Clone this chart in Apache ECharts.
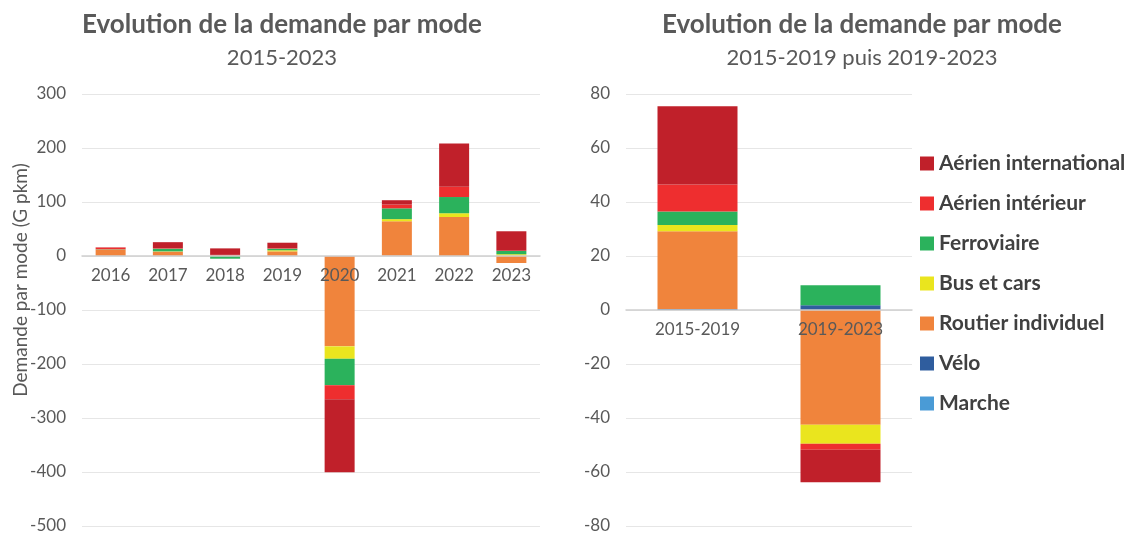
<!DOCTYPE html>
<html>
<head>
<meta charset="utf-8">
<script src="https://cdn.jsdelivr.net/npm/echarts@6/dist/echarts.min.js"></script>
<style>
  html, body { margin: 0; padding: 0; background: #fff; }
  #chart { width: 1135px; height: 533px; }
</style>
</head>
<body>
<div id="chart"></div>
<script>
// années (graphique de gauche)
const years = ['2016', '2017', '2018', '2019', '2020', '2021', '2022', '2023'];
// périodes (graphique de droite)
const periods = ['2015-2019', '2019-2023'];

const modes = ['Marche', 'Vélo', 'Routier individuel', 'Bus et cars', 'Ferroviaire', 'Aérien intérieur', 'Aérien international'];
const colors = ['#4A9BD6', '#2F5D9E', '#F0843C', '#EAE51E', '#2BB25C', '#EE2E2F', '#C0202A'];

// variations annuelles (G pkm)
const marcheYear = [0, 0, 0, 0, 0, 0, 0, 0];
const veloYear = [0.1, 0.1, 0.1, 0.1, -0.3, 0.3, 0.2, 0.3];
const routierYear = [12, 8, 1, 8.5, -167, 64, 72, -13];
const busYear = [0, 0.5, 0, 2, -23, 4, 7, 3];
const ferroYear = [0.5, 5, -5, 3, -49, 20, 30, 6];
const aerIntYear = [3, 1, 1, 1, -26, 7, 19, 0.5];
const aerInterYear = [0.5, 11, 12, 10, -135, 8, 80, 36];

// variations par période (G pkm)
const marchePeriod = [0, 0];
const veloPeriod = [0.4, 1.8];
const routierPeriod = [28.8, -42.5];
const busPeriod = [2.3, -7];
const ferroPeriod = [5, 7.4];
const aerIntPeriod = [10, -2.3];
const aerInterPeriod = [29, -12];

const yearData = [marcheYear, veloYear, routierYear, busYear, ferroYear, aerIntYear, aerInterYear];
const periodData = [marchePeriod, veloPeriod, routierPeriod, busPeriod, ferroPeriod, aerIntPeriod, aerInterPeriod];

const FONT = 'Lato';
const gray = '#595959';

let chart = echarts.init(document.getElementById('chart'));

const series = [];
modes.forEach((m, i) => {
  series.push({
    name: m, type: 'bar', stack: 'annee',
    xAxisIndex: 0, yAxisIndex: 0,
    barWidth: 30,
    itemStyle: { color: colors[i] },
    data: yearData[i]
  });
});
modes.forEach((m, i) => {
  series.push({
    name: m, type: 'bar', stack: 'periode',
    xAxisIndex: 1, yAxisIndex: 1,
    barWidth: 80,
    itemStyle: { color: colors[i] },
    data: periodData[i]
  });
});

const yLabel = { color: gray, fontSize: 17, fontFamily: FONT };

chart.setOption({
  animation: false,
  textStyle: { fontFamily: FONT },
  title: [
    {
      text: 'Evolution de la demande par mode',
      subtext: '2015-2023',
      left: 277, top: 7, textAlign: 'center', itemGap: 9,
      textStyle: { fontSize: 26, fontWeight: 'bold', color: gray, fontFamily: FONT },
      subtextStyle: { fontSize: 22, color: gray, fontFamily: FONT }
    },
    {
      text: 'Evolution de la demande par mode',
      subtext: '2015-2019 puis 2019-2023',
      left: 857, top: 7, textAlign: 'center', itemGap: 9,
      textStyle: { fontSize: 26, fontWeight: 'bold', color: gray, fontFamily: FONT },
      subtextStyle: { fontSize: 22, color: gray, fontFamily: FONT }
    }
  ],
  legend: {
    orient: 'vertical',
    left: 915, top: 148,
    itemWidth: 14, itemHeight: 14, itemGap: 19,
    icon: 'rect',
    data: modes.slice().reverse(),
    textStyle: { fontSize: 21, fontWeight: 'bold', color: '#404040', fontFamily: FONT }
  },
  graphic: [{
    type: 'text',
    x: 11, y: 280, rotation: Math.PI / 2,
    style: {
      text: 'Demande par mode (G pkm)',
      fill: gray, font: '19px Lato',
      textAlign: 'center', textVerticalAlign: 'top'
    }
  }],
  grid: [
    { left: 82, width: 458, top: 94, height: 432, outerBoundsMode: 'none' },
    { left: 626, width: 286, top: 94, height: 432, outerBoundsMode: 'none' }
  ],
  xAxis: [
    {
      type: 'category', gridIndex: 0, data: years,
      offset: -270, z: 5,
      axisTick: { show: false },
      axisLine: { onZero: false, lineStyle: { color: '#d0d0d0', width: 1.5 } },
      axisLabel: { color: gray, fontSize: 17, margin: 11 }
    },
    {
      type: 'category', gridIndex: 1, data: periods,
      offset: -216, z: 5,
      axisTick: { show: false },
      axisLine: { onZero: false, lineStyle: { color: '#d0d0d0', width: 1.5 } },
      axisLabel: { color: gray, fontSize: 17, margin: 11 }
    }
  ],
  yAxis: [
    {
      type: 'value', gridIndex: 0, min: -500, max: 300, interval: 100,
      axisLine: { show: false }, axisTick: { show: false },
      axisLabel: Object.assign({ margin: 16 }, yLabel),
      splitLine: { lineStyle: { color: '#e6e6e6' } }
    },
    {
      type: 'value', gridIndex: 1, min: -80, max: 80, interval: 20,
      axisLine: { show: false }, axisTick: { show: false },
      axisLabel: Object.assign({ margin: 16 }, yLabel),
      splitLine: { lineStyle: { color: '#e6e6e6' } }
    }
  ],
  series: series
});
</script>
</body>
</html>
